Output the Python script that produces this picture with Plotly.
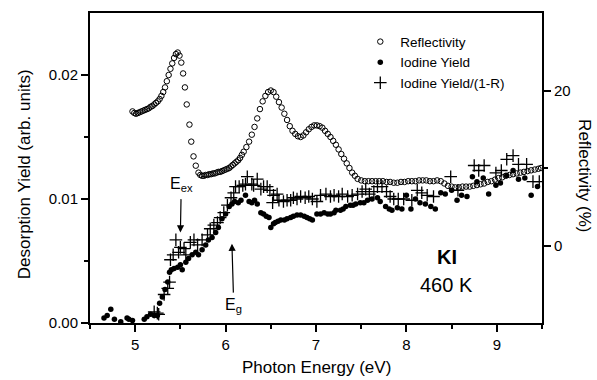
import plotly.graph_objects as go

# Reflectivity (%) vs photon energy (eV)
refl_E = [4.97, 4.99, 5.01, 5.03, 5.05, 5.07, 5.09, 5.11, 5.13, 5.15, 5.17, 5.19, 5.21, 5.23, 5.25,
          5.27, 5.29, 5.31, 5.33, 5.35, 5.37, 5.39, 5.41, 5.43, 5.45, 5.47, 5.49, 5.51, 5.53, 5.55,
          5.57, 5.60, 5.62, 5.645, 5.67, 5.70, 5.72, 5.74, 5.76, 5.78, 5.80, 5.82, 5.84, 5.86, 5.88,
          5.90, 5.92, 5.94, 5.96, 5.98, 6.00, 6.02, 6.04, 6.06, 6.08, 6.10, 6.12, 6.14, 6.16, 6.18,
          6.20, 6.23, 6.26, 6.29, 6.32, 6.35, 6.38, 6.41, 6.44, 6.47, 6.50, 6.53, 6.56, 6.59, 6.62,
          6.65, 6.68, 6.71, 6.74, 6.77, 6.80, 6.83, 6.86, 6.89, 6.92, 6.95, 6.98, 7.01, 7.04, 7.07,
          7.10, 7.13, 7.16, 7.19, 7.22, 7.25, 7.28, 7.31, 7.34, 7.37, 7.40, 7.43, 7.46, 7.50, 7.54,
          7.58, 7.62, 7.66, 7.70, 7.74, 7.78, 7.82, 7.86, 7.90, 7.94, 7.98, 8.02, 8.06, 8.10, 8.14,
          8.18, 8.22, 8.26, 8.30, 8.34, 8.38, 8.42, 8.46, 8.50, 8.54, 8.58, 8.62, 8.66, 8.70, 8.74,
          8.78, 8.82, 8.86, 8.90, 8.94, 8.98, 9.02, 9.06, 9.10, 9.14, 9.18, 9.22, 9.26, 9.30, 9.34,
          9.38, 9.42, 9.46, 9.49]
refl_R = [17.3, 17.1, 17.0, 17.1, 17.2, 17.3, 17.4, 17.5, 17.6, 17.7, 17.9, 18.0, 18.2, 18.4, 18.6,
          18.9, 19.3, 19.8, 20.4, 21.2, 22.0, 22.8, 23.5, 24.2, 24.7, 24.9, 24.5, 23.6, 22.2, 20.4,
          18.2, 15.6, 13.4, 11.5, 10.3, 9.4, 9.1, 9.0, 9.0, 9.1, 9.1, 9.2, 9.2, 9.3, 9.3,
          9.4, 9.5, 9.5, 9.6, 9.7, 9.8, 9.9, 10.0, 10.2, 10.4, 10.6, 10.8, 11.0, 11.3, 11.7,
          12.1, 12.7, 13.4, 14.3, 15.3, 16.4, 17.6, 18.6, 19.3, 19.8, 20.0, 19.8, 19.2, 18.5, 17.8,
          17.0, 16.2, 15.4, 14.8, 14.4, 14.1, 14.0, 14.2, 14.6, 15.0, 15.3, 15.5, 15.5, 15.4, 15.2,
          14.8, 14.4, 14.0, 13.5, 13.0, 12.4, 11.8, 11.2, 10.6, 10.0, 9.4, 9.0, 8.6, 8.4, 8.3,
          8.3, 8.3, 8.3, 8.3, 8.3, 8.2, 8.2, 8.1, 8.1, 8.2, 8.2, 8.3, 8.3, 8.3, 8.4,
          8.4, 8.4, 8.3, 8.3, 8.4, 8.3, 8.0, 7.7, 7.6, 7.5, 7.5, 7.6, 7.6, 7.6, 7.7,
          7.8, 7.9, 8.0, 8.2, 8.3, 8.5, 8.7, 8.8, 9.0, 9.1, 9.2, 9.3, 9.4, 9.5, 9.6,
          9.7, 9.8, 9.9, 10.0]

# Iodine yield (arb. units)
yield_E = [4.655, 4.69, 4.73, 4.77, 4.84, 4.91, 4.93, 4.97, 5.10, 5.13, 5.17, 5.21, 5.245, 5.27,
           5.30, 5.33, 5.36, 5.38, 5.40, 5.43, 5.47, 5.50, 5.52, 5.56, 5.59, 5.63, 5.67, 5.70,
           5.74, 5.78, 5.81, 5.85, 5.89, 5.92, 5.96, 6.00, 6.04, 6.07, 6.10, 6.14, 6.17, 6.22,
           6.26, 6.29, 6.32, 6.35, 6.39, 6.42, 6.45, 6.48, 6.50, 6.53, 6.55, 6.58, 6.61, 6.65,
           6.68, 6.72, 6.75, 6.79, 6.83, 6.87, 6.90, 6.93, 6.96, 7.01, 7.05, 7.09, 7.13, 7.16,
           7.20, 7.22, 7.27, 7.30, 7.33, 7.38, 7.41, 7.44, 7.49, 7.53, 7.57, 7.62, 7.68, 7.71,
           7.77, 7.81, 7.84, 7.90, 7.95, 8.00, 8.05, 8.10, 8.15, 8.21, 8.27, 8.32, 8.38, 8.43,
           8.50, 8.56, 8.61, 8.67, 8.73, 8.78, 8.85, 8.91, 8.99, 9.04, 9.11, 9.18, 9.24, 9.31,
           9.38, 9.45]
yield_Y = [0.0004, 0.0006, 0.0011, 0.0003, 0.0001, 0.0004, 0.0003, 0.0002, 0.0003, 0.0005, 0.0007,
           0.0006, 0.0006, 0.0016, 0.0021, 0.0027, 0.0033, 0.0041, 0.0043, 0.0044, 0.0045, 0.0047,
           0.0043, 0.0049, 0.0052, 0.0055, 0.0057, 0.0055, 0.0059, 0.0063, 0.0067, 0.0069, 0.0073,
           0.0077, 0.0084, 0.0088, 0.0094, 0.0096, 0.0098, 0.0097, 0.0099, 0.0103, 0.0098, 0.0097,
           0.0099, 0.0096, 0.0089, 0.0088, 0.0086, 0.0085, 0.0077, 0.0080, 0.0081, 0.0082, 0.0083,
           0.0083, 0.0084, 0.0085, 0.0086, 0.0087, 0.0087, 0.0086, 0.0085, 0.0084, 0.0083, 0.0088,
           0.0088, 0.0089, 0.0088, 0.0088, 0.0089, 0.0091, 0.0091, 0.0092, 0.0094, 0.0095, 0.0095,
           0.0096, 0.0097, 0.0097, 0.0099, 0.0100, 0.0101, 0.0098, 0.0094, 0.0092, 0.0091, 0.0093,
           0.0092, 0.0103, 0.0092, 0.0100, 0.0097, 0.0096, 0.0094, 0.0092, 0.0105, 0.0104, 0.0107,
           0.0099, 0.0103, 0.0102, 0.0118, 0.0114, 0.0117, 0.0104, 0.0111, 0.0113, 0.0119, 0.0123,
           0.0116, 0.0117, 0.0103, 0.0110]

# Iodine yield / (1-R)
corr_E = [5.21, 5.245, 5.26, 5.32, 5.36, 5.38, 5.39, 5.42, 5.45, 5.48, 5.50, 5.54, 5.56, 5.61,
          5.65, 5.69, 5.74, 5.80, 5.83, 5.87, 5.91, 5.94, 5.98, 6.02, 6.06, 6.09, 6.11, 6.15,
          6.19, 6.22, 6.24, 6.29, 6.31, 6.35, 6.39, 6.42, 6.46, 6.49, 6.53, 6.52, 6.57, 6.59,
          6.64, 6.68, 6.72, 6.75, 6.79, 6.83, 6.88, 6.92, 6.96, 7.01, 7.05, 7.11, 7.16, 7.20,
          7.25, 7.29, 7.35, 7.40, 7.46, 7.51, 7.55, 7.59, 7.64, 7.68, 7.73, 7.78, 7.82, 7.86,
          7.91, 7.97, 8.06, 8.12, 8.17, 8.23, 8.30, 8.49, 8.57, 8.75, 8.80, 8.86, 8.99, 9.05,
          9.11, 9.18, 9.24, 9.33, 9.40, 9.47]
corr_Y = [0.0009, 0.0008, 0.0007, 0.0023, 0.0028, 0.0033, 0.0051, 0.0055, 0.0067, 0.0057, 0.0061,
          0.0060, 0.0055, 0.0065, 0.0067, 0.0063, 0.0067, 0.0071, 0.0076, 0.0079, 0.0081, 0.0085,
          0.0089, 0.0095, 0.0101, 0.0105, 0.0110, 0.0110, 0.0111, 0.0112, 0.0118, 0.0112, 0.0111,
          0.0116, 0.0108, 0.0110, 0.0110, 0.0107, 0.0103, 0.0097, 0.0104, 0.0099, 0.0098, 0.0099,
          0.0099, 0.0101, 0.0100, 0.0102, 0.0101, 0.0102, 0.0100, 0.0098, 0.0103, 0.0104, 0.0102,
          0.0103, 0.0102, 0.0104, 0.0102, 0.0103, 0.0104, 0.0106, 0.0108, 0.0104, 0.0106, 0.0110,
          0.0110, 0.0106, 0.0102, 0.0100, 0.0100, 0.0100, 0.0099, 0.0107, 0.0105, 0.0103, 0.0102,
          0.0118, 0.0107, 0.0127, 0.0123, 0.0127, 0.0121, 0.0123, 0.0132, 0.0135, 0.0128, 0.0128,
          0.0114, 0.0114]

FONT = "Liberation Sans, Arial, sans-serif"

fig = go.Figure()
fig.add_trace(go.Scatter(x=refl_E, y=refl_R, mode="markers", name="Reflectivity", yaxis="y2",
                         marker=dict(symbol="circle-open", size=5.5, color="black", line=dict(width=1, color="black"))))
fig.add_trace(go.Scatter(x=yield_E, y=yield_Y, mode="markers", name="Iodine Yield",
                         marker=dict(symbol="circle", size=5.5, color="black")))
fig.add_trace(go.Scatter(x=corr_E, y=corr_Y, mode="markers", name="Iodine Yield/(1-R)",
                         marker=dict(symbol="cross-thin", size=9, color="black", line=dict(width=1.3, color="black"))))

axis_common = dict(showgrid=False, zeroline=False, showline=True, linecolor="black", linewidth=2,
                   ticks="outside", ticklen=7, tickwidth=1.5, tickcolor="black",
                   tickfont=dict(family=FONT, size=15, color="black"))
minor_common = dict(ticks="outside", ticklen=4, tickcolor="black", tickwidth=1.5)

fig.update_layout(
    width=597, height=380,
    margin=dict(l=90, r=55, t=11, b=57),
    paper_bgcolor="white", plot_bgcolor="white",
    font=dict(family=FONT, color="black"),
    xaxis=dict(range=[4.5, 9.5], dtick=1, tick0=5, mirror=True,
               minor=dict(dtick=0.5, tick0=4.5, **minor_common), **axis_common),
    yaxis=dict(range=[0, 0.025], tickvals=[0, 0.01, 0.02], ticktext=["0.00", "0.01", "0.02"],
               minor=dict(tickvals=[0.005, 0.015], **minor_common), **axis_common),
    yaxis2=dict(range=[-10, 30], tickvals=[0, 20], overlaying="y", side="right", anchor="x",
                minor=dict(tickvals=[10], **minor_common), **axis_common),
    showlegend=True,
    legend=dict(x=0.598, y=0.957, xanchor="left", yanchor="top", bgcolor="rgba(0,0,0,0)",
                font=dict(family=FONT, size=13.5, color="black"), tracegroupgap=0, itemsizing="trace"),
)

annots = [
    dict(text="Photon Energy (eV)", xref="paper", yref="paper", x=0.5, y=-0.144, xanchor="center",
         yanchor="middle", showarrow=False, font=dict(size=17)),
    dict(text="Desorption Yield (arb. units)", xref="paper", yref="paper", x=-0.146, y=0.48,
         xanchor="center", yanchor="middle", textangle=-90, showarrow=False, font=dict(size=17)),
    dict(text="Reflectivity (%)", xref="paper", yref="paper", x=1.095, y=0.474,
         xanchor="center", yanchor="middle", textangle=90, showarrow=False, font=dict(size=17)),
    # E_ex label with arrow pointing down to the exciton energy
    dict(text="E<sub>ex</sub>", xref="x", yref="y", x=5.5, y=0.0073, ax=5.51, ay=0.0112,
         axref="x", ayref="y", showarrow=True, arrowhead=2, arrowsize=1.2, arrowwidth=1.2,
         arrowcolor="black", standoff=0, startstandoff=4, font=dict(size=16)),
    # E_g label with arrow pointing up to the band gap energy
    dict(text="E<sub>g</sub>", xref="x", yref="y", x=6.07, y=0.0064, ax=6.09, ay=0.0014,
         axref="x", ayref="y", showarrow=True, arrowhead=2, arrowsize=1.2, arrowwidth=1.2,
         arrowcolor="black", standoff=0, startstandoff=2, font=dict(size=16)),
    dict(text="<b>KI</b>", xref="x", yref="y", x=8.45, y=0.0053, showarrow=False, font=dict(size=20)),
    dict(text="460 K", xref="x", yref="y", x=8.44, y=0.0031, showarrow=False, font=dict(size=20)),
]
fig.update_layout(annotations=annots)

fig.write_html("out.html")
